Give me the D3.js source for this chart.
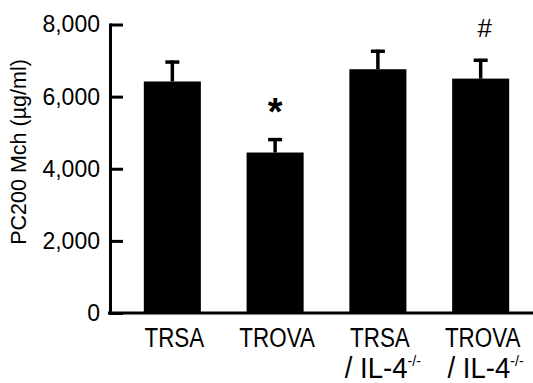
<!DOCTYPE html>
<html>
<head>
<meta charset="utf-8">
<script src="https://cdn.jsdelivr.net/npm/d3@7"></script>
<style>
  body { margin: 0; background: #fff; }
  svg text { font-family: "Liberation Sans", Arial, sans-serif; fill: #000; }
</style>
</head>
<body>
<div id="chart"></div>
<script>
// Data
const groups = ["TRSA", "TROVA", "TRSA/IL-4", "TROVA/IL-4"];
const line1 = ["TRSA", "TROVA", "TRSA", "TROVA"];
const line2 = ["", "", "/ IL-4", "/ IL-4"];
const means = [6420, 4450, 6760, 6500];
const errors = [580, 400, 540, 550];
const marks = ["", "*", "", "#"];
const yTicks = [0, 2000, 4000, 6000, 8000];

const width = 533, height = 383;

const svg = d3.select("#chart")
  .append("svg")
  .attr("width", width)
  .attr("height", height);

const x = d3.scaleBand()
  .domain(groups)
  .range([121, 532])
  .paddingInner(0.445)
  .paddingOuter(0.222);

const y = d3.scaleLinear()
  .domain([0, 8000])
  .range([313, 24.5]);

// Bars
svg.selectAll(".bar")
  .data(groups)
  .enter().append("rect")
  .attr("class", "bar")
  .attr("x", d => x(d))
  .attr("y", (d, i) => y(means[i]))
  .attr("width", x.bandwidth())
  .attr("height", (d, i) => y(0) - y(means[i]))
  .attr("fill", "#000");

// Error bars (upper only)
groups.forEach((g, i) => {
  const cx = x(g) + x.bandwidth() / 2;
  const top = y(means[i] + errors[i]);
  svg.append("line")
    .attr("x1", cx).attr("x2", cx)
    .attr("y1", y(means[i])).attr("y2", top)
    .attr("stroke", "#000").attr("stroke-width", 3.5);
  svg.append("line")
    .attr("x1", cx - 7).attr("x2", cx + 7)
    .attr("y1", top + 1.5).attr("y2", top + 1.5)
    .attr("stroke", "#000").attr("stroke-width", 3.5);

  // significance marks
  if (marks[i] === "*") {
    svg.append("text")
      .attr("x", cx)
      .attr("y", top - 13)
      .attr("text-anchor", "middle")
      .style("font-size", "38px")
      .style("font-weight", "bold")
      .text("*");
  } else if (marks[i] === "#") {
    svg.append("text")
      .attr("x", cx + 4)
      .attr("y", top - 22)
      .attr("text-anchor", "middle")
      .style("font-size", "26px")
      .text("#");
  }
});

// Y axis
const yAxis = svg.append("g")
  .attr("transform", "translate(110,0)")
  .call(d3.axisLeft(y)
    .tickValues(yTicks)
    .tickFormat(d3.format(","))
    .tickSize(-13)
    .tickSizeOuter(0)
    .tickPadding(10));

yAxis.select(".domain").attr("stroke-width", 3).attr("stroke-linecap", "square");
yAxis.selectAll(".tick line").attr("stroke-width", 3);
yAxis.selectAll(".tick text")
  .style("font-size", "23px")
  .style("font-family", "'Liberation Sans', Arial, sans-serif");

// X axis baseline
svg.append("line")
  .attr("x1", 108).attr("x2", width)
  .attr("y1", y(0)).attr("y2", y(0))
  .attr("stroke", "#000").attr("stroke-width", 3);

// X labels
groups.forEach((g, i) => {
  const cx = x(g) + x.bandwidth() / 2 + 2;
  svg.append("text")
    .attr("transform", `translate(${cx},346.5) scale(0.8,1)`)
    .attr("text-anchor", "middle")
    .style("font-size", "28px")
    .text(line1[i]);
  if (line2[i]) {
    const t = svg.append("text")
      .attr("transform", `translate(${cx + 3},378) scale(0.95,1)`)
      .attr("text-anchor", "middle")
      .style("font-size", "29px");
    t.append("tspan").text(line2[i]);
    t.append("tspan")
      .attr("dy", -12)
      .style("font-size", "15px")
      .text("-/-");
  }
});

// Y axis label
svg.append("text")
  .attr("transform", "translate(26,152) rotate(-90)")
  .attr("text-anchor", "middle")
  .style("font-size", "21.5px")
  .text("PC200 Mch (\u00b5g/ml)");
</script>
</body>
</html>
